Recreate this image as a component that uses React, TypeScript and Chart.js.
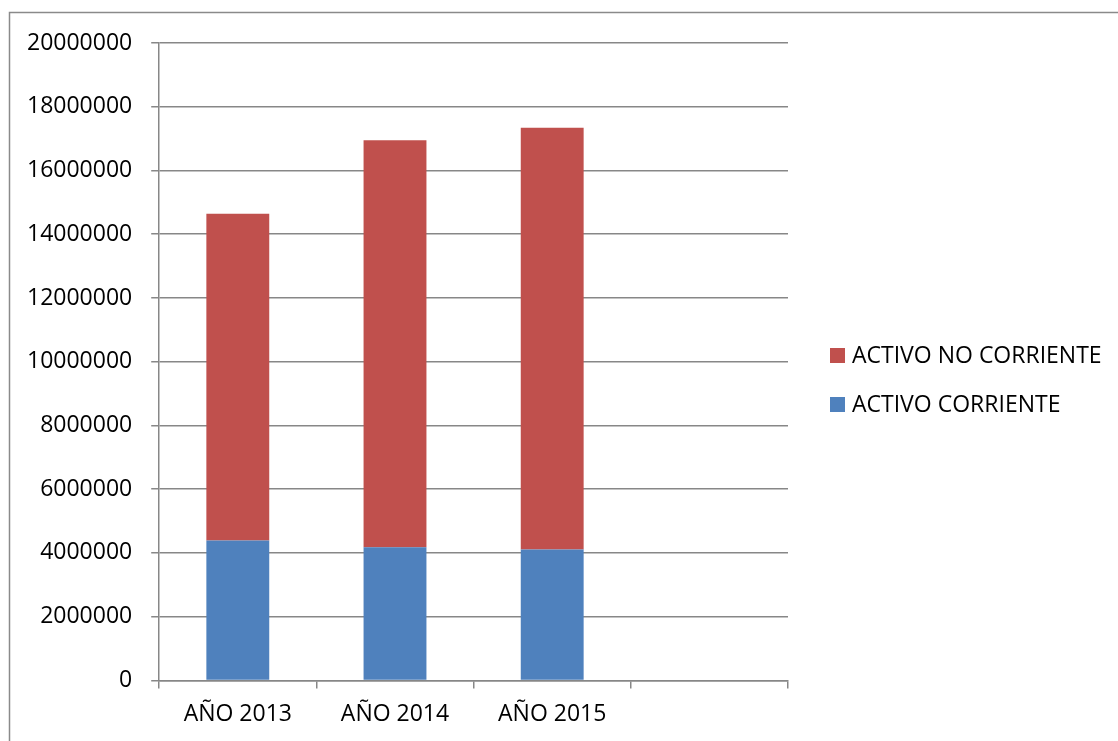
import React, { useEffect, useRef } from "react";
import { Chart, registerables } from "chart.js";

Chart.register(...registerables);

const categories = ["AÑO 2013", "AÑO 2014", "AÑO 2015", ""];
const activoCorriente = [4390000, 4180000, 4110000, null];
const activoNoCorriente = [10250000, 12770000, 13230000, null];
const yTicks = [0, 2000000, 4000000, 6000000, 8000000, 10000000, 12000000, 14000000, 16000000, 18000000, 20000000];

const FONT = "'Open Sans', 'Noto Sans', sans-serif";
const FONT_SIZE = 23;
const GRID = "#878787";

const framePlugin = {
  id: "frame",
  beforeDraw(chart: any) {
    const ctx = chart.ctx;
    ctx.save();
    ctx.fillStyle = "#ffffff";
    ctx.fillRect(0, 0, chart.width, chart.height);
    ctx.strokeStyle = "#8a8a8a";
    ctx.lineWidth = 1.5;
    ctx.beginPath();
    ctx.moveTo(9.5, chart.height);
    ctx.lineTo(9.5, 12.5);
    ctx.lineTo(chart.width, 12.5);
    ctx.stroke();
    ctx.restore();
  },
};

// Legend drawn from the datasets (reversed order, as in the reference)
const sideLegendPlugin = {
  id: "sideLegend",
  afterDraw(chart: any) {
    const ctx = chart.ctx;
    const items = chart.data.datasets.slice().reverse();
    const boxX = chart.chartArea.right + 42;
    const textX = boxX + 22;
    const firstY = 355.5;
    const step = 49;
    ctx.save();
    ctx.font = `${FONT_SIZE}px ${FONT}`;
    ctx.textBaseline = "middle";
    ctx.textAlign = "left";
    items.forEach((ds: any, i: number) => {
      const cy = firstY + i * step;
      ctx.fillStyle = ds.backgroundColor;
      ctx.fillRect(boxX, cy - 7.5, 15, 15);
      ctx.fillStyle = "#000";
      ctx.fillText(ds.label, textX, cy + 1);
    });
    ctx.restore();
  },
};

export default function App() {
  const ref = useRef<HTMLCanvasElement | null>(null);
  useEffect(() => {
    if (!ref.current) return;
    const chart = new Chart(ref.current, {
      type: "bar",
      data: {
        labels: categories,
        datasets: [
          {
            label: "ACTIVO CORRIENTE",
            data: activoCorriente,
            backgroundColor: "#4F81BD",
            barPercentage: 0.4,
            categoryPercentage: 1.0,
          },
          {
            label: "ACTIVO NO CORRIENTE",
            data: activoNoCorriente,
            backgroundColor: "#C0504D",
            barPercentage: 0.4,
            categoryPercentage: 1.0,
          },
        ],
      },
      options: {
        responsive: false,
        animation: false,
        layout: { padding: { left: 8, top: 43, bottom: 1, right: 330 } },
        plugins: {
          tooltip: { enabled: false },
          legend: { display: false },
        },
        scales: {
          x: {
            stacked: true,
            grid: {
              drawOnChartArea: false,
              drawTicks: true,
              tickLength: 8,
              color: GRID,
              lineWidth: 1.5,
              offset: true,
            },
            border: { display: true, color: GRID, width: 1.5 },
            ticks: { color: "#000", padding: 12, font: { family: FONT, size: FONT_SIZE }, maxRotation: 0 },
          },
          y: {
            stacked: true,
            min: 0,
            max: 20000000,
            afterBuildTicks: (axis: any) => {
              axis.ticks = yTicks.map((v) => ({ value: v }));
            },
            grid: { color: GRID, lineWidth: 1.5, tickLength: 8, drawTicks: true },
            border: { display: true, color: GRID, width: 1.5 },
            ticks: {
              color: "#000",
              padding: 19,
              font: { family: FONT, size: FONT_SIZE },
              callback: (v: any) => String(v),
            },
          },
        },
      },
      plugins: [framePlugin, sideLegendPlugin],
    });
    return () => chart.destroy();
  }, []);
  return (
    <div style={{ position: "fixed", left: 0, top: 0, width: 1118, height: 741 }}>
      <canvas ref={ref} width={1118} height={741} style={{ display: "block" }} />
    </div>
  );
}
